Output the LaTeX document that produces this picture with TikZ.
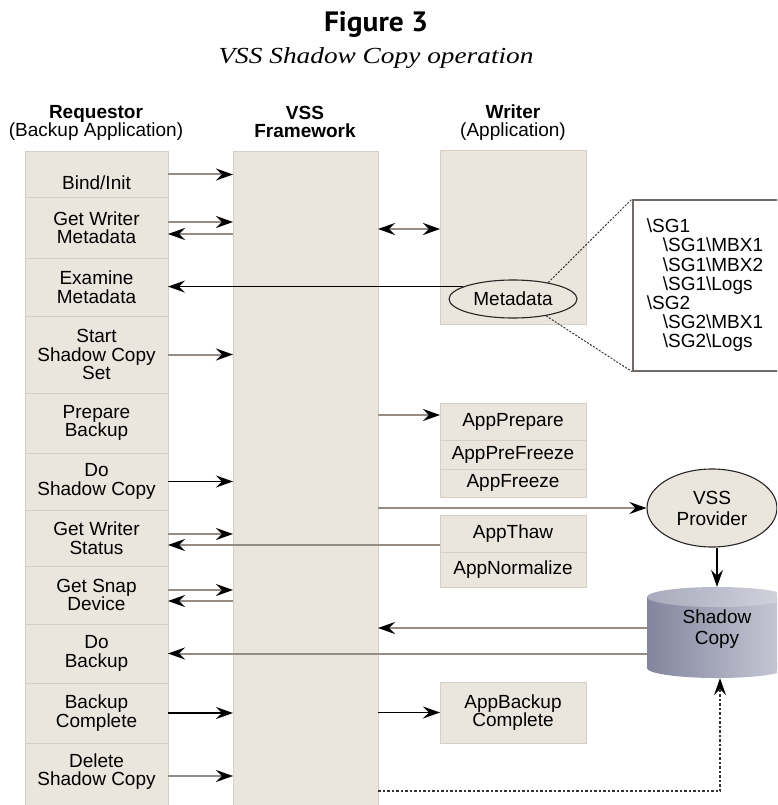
\documentclass[tikz,border=0pt]{standalone}
\usepackage{graphicx}
\usepackage{fontspec}
\setmainfont{Liberation Sans}
\newfontfamily\titlefont{PT Sans}
\newfontfamily\subtitlefont{Liberation Serif}
\usetikzlibrary{arrows.meta,positioning,shapes.geometric}

\definecolor{boxfill}{HTML}{EAE5DD}
\definecolor{boxline}{HTML}{D6CFC5}
\definecolor{linkgray}{HTML}{958C86}
\definecolor{framegray}{HTML}{6F6A66}
\definecolor{cylleft}{HTML}{83859E}
\definecolor{cylright}{HTML}{CACBD7}
\definecolor{cyltopl}{HTML}{A9AABC}
\definecolor{cyltopr}{HTML}{D3D4DD}

\newcommand{\bsl}{\textbackslash}

\tikzset{
  rowbox/.style={rectangle, draw=boxline, fill=boxfill, line width=1pt,
    minimum width=143pt, inner sep=0pt, outer sep=0pt, align=center,
    font=\fontsize{19}{18.5}\selectfont},
  appbox/.style={rowbox, minimum width=146pt},
  heading/.style={align=center, inner sep=0pt, font=\fontsize{19}{18}\selectfont},
  listbox/.style={rectangle, draw=framegray, fill=white, line width=1.6pt,
    text width=150pt, align=left, inner xsep=14pt, inner ysep=0pt,
    minimum height=171pt, font=\fontsize{19}{19.2}\selectfont},
  bubble/.style={ellipse, draw=black!85, line width=1.1pt, inner sep=0pt,
    align=center, font=\fontsize{19}{21}\selectfont},
  graylink/.style={draw=linkgray, line width=2pt},
  blacklink/.style={draw=black, line width=1.2pt},
  dotlink/.style={draw=black!80, line width=1.2pt, dash pattern=on 2.5pt off 2pt},
  tip/.style={-{Stealth[length=17pt,width=12pt,inset=6pt,color=black]}},
  tipback/.style={{Stealth[length=17pt,width=12pt,inset=6pt,color=black]}-},
  tipboth/.style={{Stealth[length=17pt,width=12pt,inset=6pt,color=black]}-{Stealth[length=17pt,width=12pt,inset=6pt,color=black]}},
}

\begin{document}
\begin{tikzpicture}[x=1pt,y=-1pt]
\useasboundingbox (0,0) rectangle (777,805);
\clip (0,0) rectangle (777,805);

% titles
\node[inner sep=0pt] (title) at (376,25)
  {\resizebox{104pt}{\height}{\titlefont\bfseries\fontsize{28}{28}\selectfont Figure 3}};
\node[inner sep=0pt] (subtitle) at (376,58)
  {\resizebox{315pt}{\height}{\subtitlefont\itshape\fontsize{23}{23}\selectfont VSS Shadow Copy operation}};

% column headings
\node[heading] (reqhead)    at (96,123)  {\textbf{Requestor}\\(Backup Application)};
\node[heading] (vsshead)    at (305,122) {\textbf{VSS}\\\textbf{Framework}};
\node[heading] (writerhead) at (513,123) {\textbf{Writer}\\(Application)};

% requestor column
\node[rowbox, minimum height=45pt, text height=30pt, text depth=0pt, anchor=north]
      (bind) at (96.5,152) {Bind/Init};
\node[rowbox, minimum height=61pt] (gwm)  [below=0pt of bind] {Get Writer\\Metadata};
\node[rowbox, minimum height=58pt] (em)   [below=0pt of gwm]  {Examine\\Metadata};
\node[rowbox, minimum height=77pt] (sscs) [below=0pt of em]   {Start\\Shadow Copy\\Set};
\node[rowbox, minimum height=60pt] (pb)   [below=0pt of sscs] {Prepare\\Backup};
\node[rowbox, minimum height=57pt] (dsc)  [below=0pt of pb]   {Do\\Shadow Copy};
\node[rowbox, minimum height=56pt] (gws)  [below=0pt of dsc]  {Get Writer\\Status};
\node[rowbox, minimum height=58pt] (gsd)  [below=0pt of gws]  {Get Snap\\Device};
\node[rowbox, minimum height=59pt] (db)   [below=0pt of gsd]  {Do\\Backup};
\node[rowbox, minimum height=60pt] (bc)   [below=0pt of db]   {Backup\\Complete};
\node[rowbox, minimum height=66pt, text depth=12.4pt] (del) [below=0pt of bc] {Delete\\Shadow Copy};

% framework column
\node[rowbox, minimum width=145pt, minimum height=660pt, anchor=north] (vss) at (305.5,152) {};

% writer column
\node[appbox, minimum height=173pt, anchor=north] (writer) at (513,151) {};
\node[bubble, minimum width=128pt, minimum height=38pt] (meta) at (513,299) {Metadata};

\node[listbox, anchor=north west] (sglist) at (632,199)
  {\bsl SG1\\
   \hspace*{16pt}\bsl SG1\bsl MBX1\\
   \hspace*{16pt}\bsl SG1\bsl MBX2\\
   \hspace*{16pt}\bsl SG1\bsl Logs\\
   \bsl SG2\\
   \hspace*{16pt}\bsl SG2\bsl MBX1\\
   \hspace*{16pt}\bsl SG2\bsl Logs};

\node[appbox, minimum height=37pt, anchor=north] (appprep) at (513,403) {AppPrepare};
\node[appbox, minimum height=29pt] (appprefreeze) [below=0pt of appprep] {AppPreFreeze};
\node[appbox, minimum height=28pt] (appfreeze) [below=0pt of appprefreeze] {AppFreeze};
\node[appbox, minimum height=37pt, anchor=north] (appthaw) at (513,515) {AppThaw};
\node[appbox, minimum height=35pt] (appnormal) [below=0pt of appthaw] {AppNormalize};
\node[appbox, minimum height=61pt, anchor=north] (appbackup) at (513,682) {AppBackup\\Complete};

% provider and shadow copy
\node[bubble, fill=boxfill, minimum width=130pt, minimum height=78pt] (provider) at (712,508) {VSS\\Provider};

\shade[left color=cylleft, right color=cylright] (647,597) rectangle (787,668);
\shade[left color=cylleft, right color=cylright] (717,668) ellipse [x radius=70, y radius=10];
\shade[left color=cyltopl, right color=cyltopr] (717,597) ellipse [x radius=70, y radius=10];
\node[minimum width=140pt, minimum height=91pt, inner sep=0pt, align=center,
      text height=28.6pt, font=\fontsize{19}{21}\selectfont] (shadow) at (717,632.5) {Shadow\\Copy};

% requestor <-> framework
\draw[graylink,tip] (bind.east) -- (bind.east -| vss.west);
\draw[graylink,tip] ([yshift=5.5pt]gwm.east) -- ([yshift=5.5pt]gwm.east -| vss.west);
\draw[graylink,tipback] ([yshift=-6.5pt]gwm.east) -- ([yshift=-6.5pt]gwm.east -| vss.west);
\draw[blacklink,tip] (meta.166) -- (meta.166 -| em.east);
\draw[graylink,tip] (sscs.east) -- (sscs.east -| vss.west);
\draw[blacklink,tip] (dsc.east) -- (dsc.east -| vss.west);
\draw[graylink,tip] ([yshift=4pt]gws.east) -- ([yshift=4pt]gws.east -| vss.west);
\draw[graylink,tip] ([yshift=-7pt]gws.east -| appthaw.west) -- ([yshift=-7pt]gws.east);
\draw[graylink,tip] ([yshift=5pt]gsd.east) -- ([yshift=5pt]gsd.east -| vss.west);
\draw[graylink,tipback] ([yshift=-6pt]gsd.east) -- ([yshift=-6pt]gsd.east -| vss.west);
\draw[graylink,tip] (db.east -| shadow.west) -- (db.east);
\draw[blacklink,tip] (bc.east) -- (bc.east -| vss.west);
\draw[graylink,tip] (del.east) -- (del.east -| vss.west);

% framework <-> writer and provider
\draw[graylink,tipboth] ([yshift=8.5pt]writer.west -| vss.east) -- ([yshift=8.5pt]writer.west);
\draw[graylink,tip] ([yshift=6.5pt]appprep.west -| vss.east) -- ([yshift=6.5pt]appprep.west);
\draw[graylink,tip] (provider.west -| vss.east) -- (provider.west);
\draw[graylink,tip] ([yshift=4.5pt]shadow.west) -- ([yshift=4.5pt]shadow.west -| vss.east);
\draw[blacklink,tip] (appbackup.west -| vss.east) -- (appbackup.west);
\draw[blacklink,tip] (provider.south -| shadow.north) -- (shadow.north);

% metadata detail
\draw[dotlink, line width=1pt, dash pattern=on 2pt off 1.5pt] (meta.25) -- (sglist.north west);
\draw[dotlink, line width=1pt, dash pattern=on 2pt off 1.5pt] (meta.-27) -- (sglist.south west);

% delete shadow copy
\coordinate (dotcorner) at (720,791);
\draw[dotlink,tip] (vss.east |- dotcorner) -- (dotcorner) -- (shadow.south -| dotcorner);
\end{tikzpicture}
\end{document}
